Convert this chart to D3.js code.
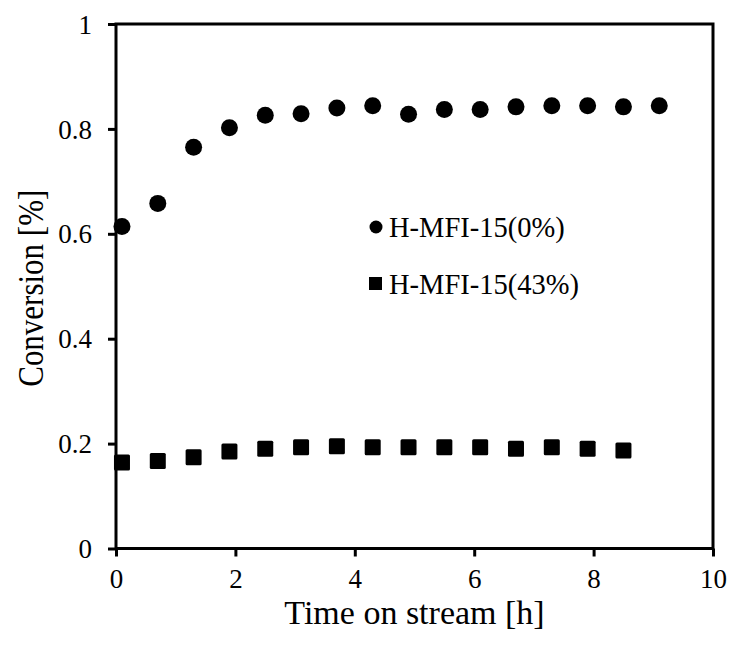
<!DOCTYPE html>
<html>
<head>
<meta charset="utf-8">
<script src="https://cdn.jsdelivr.net/npm/d3@7/dist/d3.min.js"></script>
<style>
  html, body { margin: 0; padding: 0; background: #fff; }
  svg text { font-family: "Liberation Serif", "Times New Roman", serif; fill: #000; }
</style>
</head>
<body>
<svg id="chart" width="732" height="652"></svg>
<script>
// Time on stream [h]
const timeCircle = [0.1, 0.7, 1.3, 1.9, 2.5, 3.1, 3.7, 4.3, 4.9, 5.5, 6.1, 6.7, 7.3, 7.9, 8.5, 9.1];
const convCircle = [0.614, 0.658, 0.765, 0.802, 0.826, 0.829, 0.840, 0.844, 0.828, 0.837, 0.837, 0.842, 0.844, 0.844, 0.842, 0.844];
const timeSquare = [0.1, 0.7, 1.3, 1.9, 2.5, 3.1, 3.7, 4.3, 4.9, 5.5, 6.1, 6.7, 7.3, 7.9, 8.5];
const convSquare = [0.164, 0.167, 0.174, 0.185, 0.190, 0.193, 0.195, 0.193, 0.193, 0.193, 0.193, 0.190, 0.193, 0.190, 0.187];
const seriesNames = ["H-MFI-15(0%)", "H-MFI-15(43%)"];
const xTicks = [0, 2, 4, 6, 8, 10];
const yTicks = [0, 0.2, 0.4, 0.6, 0.8, 1];

const FONT = "'Liberation Serif', 'Times New Roman', serif";
const svg = d3.select("#chart");
const m = { left: 116, right: 713, top: 24, bottom: 548.5 };

const x = d3.scaleLinear().domain([0, 10]).range([m.left, m.right]);
const y = d3.scaleLinear().domain([0, 1]).range([m.bottom, m.top]);

// plot frame
svg.append("rect")
  .attr("x", m.left).attr("y", m.top)
  .attr("width", m.right - m.left).attr("height", m.bottom - m.top)
  .attr("fill", "none").attr("stroke", "#000").attr("stroke-width", 3);

// axes
const xAxis = svg.append("g")
  .attr("transform", `translate(0,${m.bottom})`)
  .call(d3.axisBottom(x).tickValues(xTicks).tickSize(8).tickPadding(12).tickFormat(d3.format("d")));
const yAxis = svg.append("g")
  .attr("transform", `translate(${m.left},0)`)
  .call(d3.axisLeft(y).tickValues(yTicks).tickSize(8).tickPadding(16)
    .tickFormat(d => d === 0 || d === 1 ? d3.format("d")(d) : d3.format(".1f")(d)));

[xAxis, yAxis].forEach(a => {
  a.attr("font-family", FONT).attr("font-size", 27);
  a.select(".domain").remove();
  a.selectAll(".tick line").attr("stroke", "#000").attr("stroke-width", 3);
  a.selectAll(".tick text").attr("fill", "#000").attr("font-family", FONT).attr("font-size", 27);
});
yAxis.selectAll(".tick text").attr("dy", "0.34em");

// axis titles
svg.append("text")
  .attr("x", (m.left + m.right) / 2).attr("y", 624)
  .attr("text-anchor", "middle").attr("font-family", FONT).attr("font-size", 34)
  .text("Time on stream [h]");
svg.append("text")
  .attr("transform", `translate(43,${(m.top + m.bottom) / 2 + 2}) rotate(-90) scale(1,1.15)`)
  .attr("text-anchor", "middle").attr("font-family", FONT).attr("font-size", 31)
  .text("Conversion [%]");

// series markers
const circles = timeCircle.map((t, i) => ({ t, v: convCircle[i] }));
const squares = timeSquare.map((t, i) => ({ t, v: convSquare[i] }));
const r = 8.5;
const s = 16;

svg.append("g").selectAll("circle").data(circles).join("circle")
  .attr("cx", d => x(d.t)).attr("cy", d => y(d.v)).attr("r", r).attr("fill", "#000");

svg.append("g").selectAll("rect").data(squares).join("rect")
  .attr("x", d => x(d.t) - s / 2).attr("y", d => y(d.v) - s / 2)
  .attr("width", s).attr("height", s).attr("rx", 1.5).attr("fill", "#000");

// legend
const legend = svg.append("g").attr("font-family", FONT);
legend.append("circle").attr("cx", 376).attr("cy", 227).attr("r", 6.5).attr("fill", "#000");
legend.append("text").attr("x", 389).attr("y", 237).attr("font-size", 28.5).text(seriesNames[0]);
legend.append("rect").attr("x", 369).attr("y", 277).attr("width", 13).attr("height", 13).attr("fill", "#000");
legend.append("text").attr("x", 389).attr("y", 294).attr("font-size", 28.5).text(seriesNames[1]);
</script>
</body>
</html>
